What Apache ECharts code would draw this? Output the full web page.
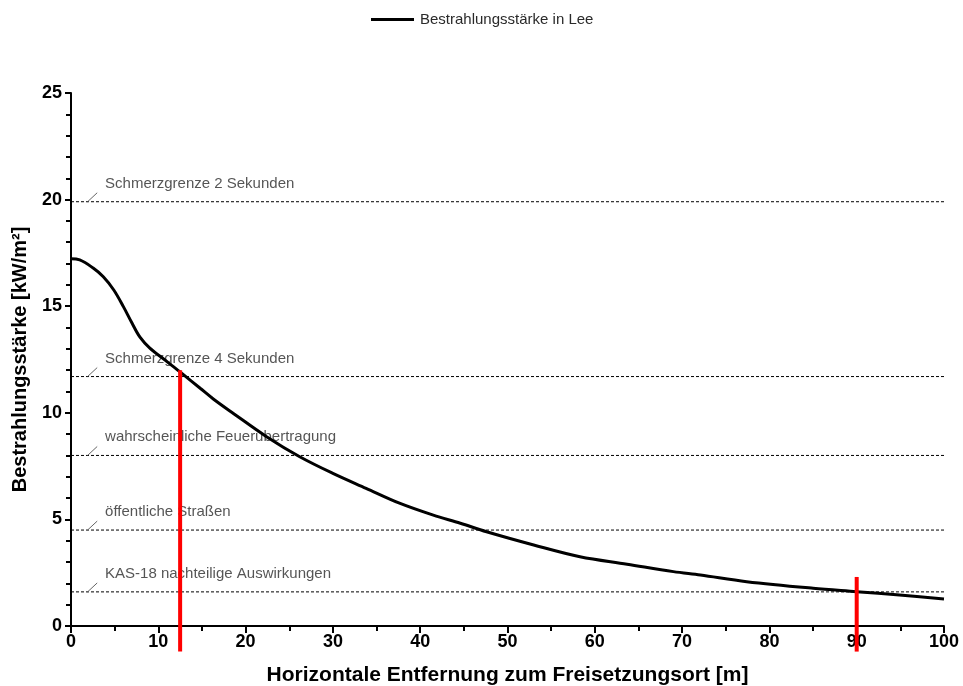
<!DOCTYPE html>
<html>
<head>
<meta charset="utf-8">
<script src="https://cdn.jsdelivr.net/npm/echarts@6/dist/echarts.min.js"></script>
<style>html,body{margin:0;padding:0;background:#fff}#c{width:963px;height:686px}</style>
</head>
<body>
<div id="c"></div>
<script>
// Data
const distance = [0,1,2.5,3.7,4.9,6,7,7.9,9,11,12.7,14.8,16.3,18.6,22.4,26.2,30,33.8,37.7,41.5,44.6,47.6,53,58.3,63.7,69,72.1,77.4,85,90,94.9,100];
const irradiance = [17.22,17.17,16.8,16.38,15.76,14.98,14.2,13.55,13.05,12.4,11.85,11.15,10.65,9.97,8.88,7.94,7.16,6.46,5.75,5.2,4.82,4.42,3.8,3.25,2.9,2.55,2.39,2.08,1.77,1.61,1.45,1.27];
const thresholdValues = [19.9, 11.7, 8, 4.5, 1.6];
const thresholdNames = ['Schmerzgrenze 2 Sekunden','Schmerzgrenze 4 Sekunden','wahrscheinliche Feuerübertragung','öffentliche Straßen','KAS-18 nachteilige Auswirkungen'];
const markerX = [12.5, 90];
const markerTop = [12.0, 2.3];
const markerBottom = -1.2;
const xTicks = [0,10,20,30,40,50,60,70,80,90,100];
const yTicks = [0,5,10,15,20,25];

const FONT = '"Liberation Sans", Arial, sans-serif';
const series = [];
series.push({
  name: 'Bestrahlungsstärke in Lee',
  type: 'line',
  data: distance.map((d,i)=>[d, irradiance[i]]),
  showSymbol: false,
  symbol: 'none',
  smooth: 0.35,
  lineStyle: {color:'#000', width:3},
  itemStyle: {color:'#000'},
  z: 5
});
thresholdValues.forEach((v,i)=>{
  series.push({
    type:'line', data:[[0,v],[100,v]], symbol:'none', silent:true,
    lineStyle:{color:'#000', width:1, type:[3,2]}, z:2
  });
  series.push({
    type:'line', data:[[1.9,v],[3.0,v+0.42]], symbol:'none', silent:true,
    lineStyle:{color:'#666', width:1}, z:2
  });
  series.push({
    type:'scatter', data:[[3.9, v+0.85]], symbolSize:0, silent:true,
    label:{show:true, position:'right', distance:0, formatter:thresholdNames[i], color:'#2a2a2a', fontSize:15, fontFamily:FONT},
    z:3
  });
});
markerX.forEach((x,i)=>{
  series.push({
    type:'line', data:[[x, markerBottom],[x, markerTop[i]]], symbol:'none', silent:true, clip:false,
    lineStyle:{color:'#ff0000', width:4}, z:10
  });
});

const chart = echarts.init(document.getElementById('c'));
chart.setOption({
  animation:false,
  backgroundColor:'#fff',
  legend:{
    data:[{name:'Bestrahlungsstärke in Lee', icon:'rect'}], left:366, top:7, itemWidth:43, itemHeight:3, itemGap:6,
    textStyle:{fontSize:15, color:'#2a2a2a', fontFamily:FONT, padding:[0,0,0,1]}
  },
  grid:{left:71, right:19, top:93, bottom:60, containLabel:false, outerBoundsMode:'none'},
  xAxis:{
    type:'value', min:0, max:100, interval:10,
    name:'Horizontale Entfernung zum Freisetzungsort [m]', nameLocation:'middle', nameGap:39,
    nameTextStyle:{fontSize:21, fontWeight:'bold', color:'#000', fontFamily:FONT},
    axisLine:{lineStyle:{color:'#000', width:2}},
    axisTick:{show:true, inside:false, length:7, lineStyle:{color:'#000', width:2}},
    minorTick:{show:true, splitNumber:2, length:5, lineStyle:{color:'#000', width:2}},
    splitLine:{show:false},
    axisLabel:{fontSize:18, fontWeight:'bold', color:'#000', margin:7, fontFamily:FONT,
      formatter:(v)=> xTicks.includes(v) ? String(v) : ''}
  },
  yAxis:{
    type:'value', min:0, max:25, interval:5,
    name:'Bestrahlungsstärke [kW/m²]', nameLocation:'middle', nameGap:41,
    nameTextStyle:{fontSize:20, fontWeight:'bold', color:'#000', fontFamily:FONT},
    axisLine:{show:true, lineStyle:{color:'#000', width:2}},
    axisTick:{show:true, inside:false, length:6, lineStyle:{color:'#000', width:2}},
    minorTick:{show:true, splitNumber:5, length:5, lineStyle:{color:'#000', width:2}},
    splitLine:{show:false},
    axisLabel:{fontSize:18, fontWeight:'bold', color:'#000', margin:9, fontFamily:FONT,
      formatter:(v)=> yTicks.includes(v) ? String(v) : ''}
  },
  series: series
});
</script>
</body>
</html>
